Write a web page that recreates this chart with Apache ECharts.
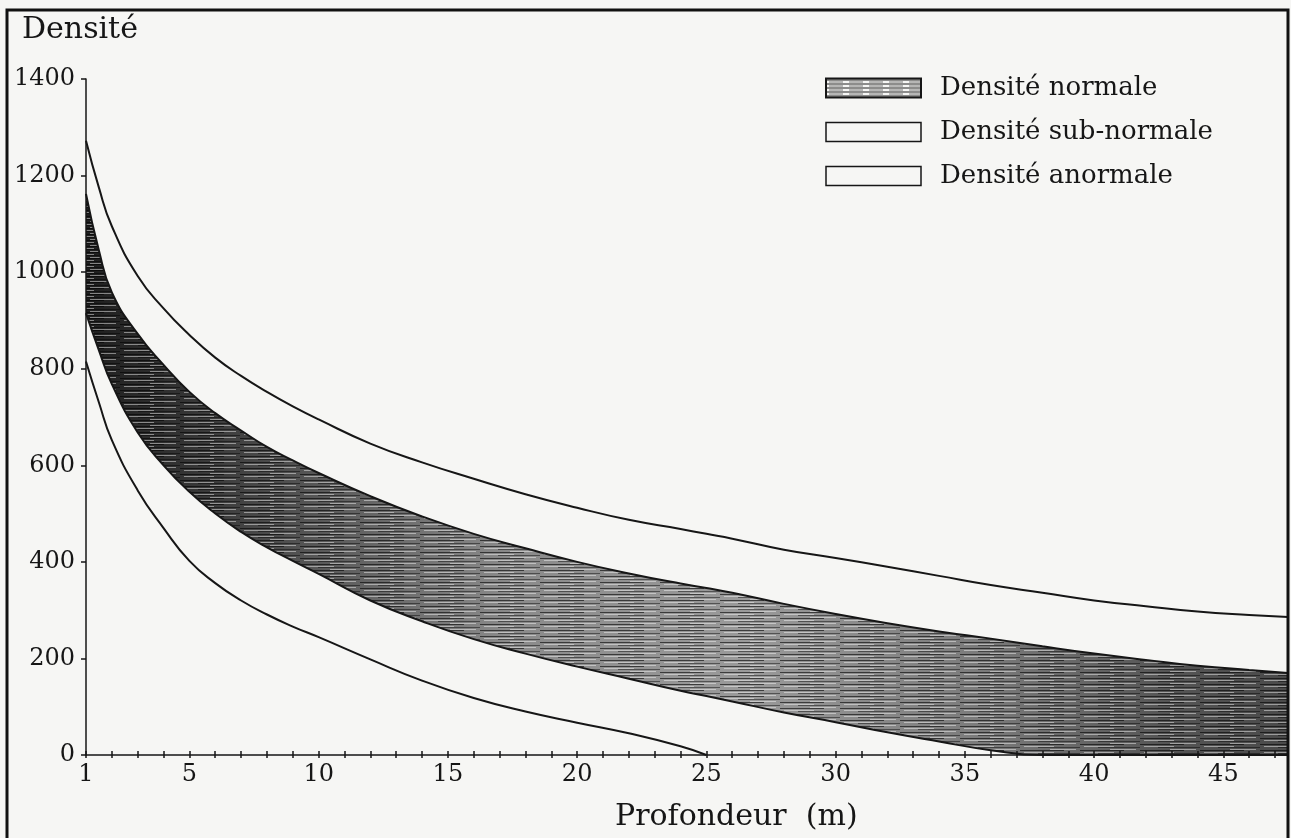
<!DOCTYPE html>
<html>
<head>
<meta charset="utf-8">
<title>Densité / Profondeur</title>
<script src="https://cdn.jsdelivr.net/npm/echarts@6/dist/echarts.min.js"></script>
<style>
  html, body { margin: 0; padding: 0; background: #f6f6f4; }
  #app { width: 1291px; height: 838px; }
</style>
</head>
<body>
<div id="app"></div>
<script>
(function() {
  // profondeur (m)
  const depth = [1, 1.5, 2, 3, 4, 5, 6, 7, 8, 9, 10, 12, 14, 16, 18, 20, 22, 24, 25, 26, 28, 30, 32, 34, 36, 38, 40, 42, 44, 46, 47.5];
  // courbe haute (limite sub-normale)
  const subHigh = [1272, 1175, 1095, 992, 925, 870, 823, 785, 752, 722, 695, 645, 606, 572, 540, 512, 487, 468, 458, 448, 425, 408, 390, 371, 352, 336, 320, 308, 297, 290, 286];
  // bande normale : limite haute / limite basse
  const normalHigh = [1162, 1045, 958, 872, 808, 752, 708, 672, 638, 610, 584, 536, 494, 458, 428, 400, 376, 355, 346, 336, 313, 292, 273, 256, 241, 225, 210, 197, 185, 176, 170];
  const normalLow = [915, 838, 768, 668, 600, 545, 500, 462, 430, 402, 375, 320, 277, 240, 210, 183, 158, 133, 122, 111, 88, 68, 47, 28, 10, 0, 0, 0, 0, 0, 0];
  // courbe basse (limite anormale)
  const anomLow = [815, 730, 652, 548, 470, 402, 356, 320, 291, 266, 244, 198, 154, 118, 90, 67, 45, 18, 0, null, null, null, null, null, null, null, null, null, null, null, null];

  const xLabels = [1, 5, 10, 15, 20, 25, 30, 35, 40, 45];
  const xTicks = [];
  for (let i = 1; i <= 47; i++) xTicks.push(i);

  const FONT = "DejaVu Serif";
  const INK = "#161616";
  const PAPER = "#f6f6f4";

  function pairs(vals) {
    return depth.map((d, i) => [d, vals[i]]);
  }

  // hachures horizontales pour la bande normale
  function makeStripes() {
    const c = document.createElement("canvas");
    c.width = 60;
    c.height = 6;
    const ctx = c.getContext("2d");
    ctx.fillStyle = "rgba(0,0,0,0.6)";
    ctx.fillRect(0, 0, 44, 1);
    ctx.fillStyle = "rgba(0,0,0,0.45)";
    ctx.fillRect(18, 3, 42, 1);
    ctx.fillStyle = "rgba(255,255,255,0.45)";
    ctx.fillRect(4, 2, 30, 1);
    ctx.fillRect(30, 5, 26, 1);
    return c;
  }
  function makeLegendStripes() {
    const c = document.createElement("canvas");
    c.width = 20;
    c.height = 4;
    const ctx = c.getContext("2d");
    ctx.fillStyle = PAPER;
    ctx.fillRect(0, 0, 20, 4);
    ctx.fillStyle = "#222";
    ctx.fillRect(0, 1, 20, 1);
    ctx.fillStyle = "#777";
    ctx.fillRect(3, 3, 14, 1);
    return c;
  }

  const hidden = { width: 0, opacity: 0 };
  const lineBase = {
    type: "line",
    smooth: 0.5,
    showSymbol: false,
    symbol: "none",
    silent: true,
    lineStyle: { color: INK, width: 2 },
    itemStyle: { color: INK }
  };

  const myChart = echarts.init(document.getElementById("app"));
  const option = {
    animation: false,
    backgroundColor: PAPER,
    title: [
      {
        text: "Densité",
        left: 17,
        top: 10,
        textStyle: { fontFamily: FONT, fontSize: 30, fontWeight: "normal", color: INK }
      },
      {
        text: "Profondeur  (m)",
        left: 610,
        top: 797,
        textStyle: { fontFamily: FONT, fontSize: 30, fontWeight: "normal", color: INK }
      }
    ],
    legend: {
      orient: "vertical",
      left: 825,
      top: 75,
      padding: 0,
      itemGap: 18,
      itemWidth: 95,
      itemHeight: 19,
      selectedMode: false,
      textStyle: { fontFamily: FONT, fontSize: 26, color: INK, padding: [0, 0, 0, 14] },
      data: [
        {
          name: "Densité normale",
          icon: "rect",
          itemStyle: { color: { image: makeLegendStripes(), repeat: "repeat" }, borderColor: INK, borderWidth: 2 }
        },
        {
          name: "Densité sub-normale",
          icon: "rect",
          itemStyle: { color: PAPER, borderColor: INK, borderWidth: 1.5 }
        },
        {
          name: "Densité anormale",
          icon: "rect",
          itemStyle: { color: PAPER, borderColor: INK, borderWidth: 1.5 }
        }
      ]
    },
    grid: {
      left: 86,
      right: 3,
      top: 79,
      bottom: 83,
      containLabel: false,
      outerBoundsMode: "none"
    },
    xAxis: [
      {
        type: "value",
        min: 1,
        max: 47.5,
        z: 10,
        axisLine: { show: true, onZero: false, lineStyle: { color: INK, width: 1.5 } },
        axisTick: { show: true, inside: true, length: 4, customValues: xTicks, lineStyle: { color: INK, width: 1.5 } },
        axisLabel: { customValues: xLabels, margin: 8, fontFamily: FONT, fontSize: 24, color: INK },
        splitLine: { show: false }
      },
      {
        type: "value",
        min: 1,
        max: 47.5,
        position: "bottom",
        z: 10,
        axisLine: { show: false },
        axisTick: { show: true, length: 3, customValues: xTicks, lineStyle: { color: INK, width: 1.5 } },
        axisLabel: { show: false },
        splitLine: { show: false }
      }
    ],
    yAxis: {
      type: "value",
      min: 0,
      max: 1400,
      interval: 200,
      z: 10,
      axisLine: { show: true, onZero: false, lineStyle: { color: INK, width: 1.5 } },
      axisTick: { show: true, length: 5, lineStyle: { color: INK, width: 1.5 } },
      axisLabel: { margin: 11, fontFamily: FONT, fontSize: 24, color: INK, formatter: v => String(v) },
      splitLine: { show: false }
    },
    series: [
      // fond gris dégradé sous la limite haute
      Object.assign({}, lineBase, {
        name: "fond",
        data: pairs(normalHigh),
        lineStyle: hidden,
        areaStyle: {
          opacity: 1,
          color: new echarts.graphic.LinearGradient(0, 0, 1, 0, [
            { offset: 0, color: "#1e1e1e" },
            { offset: 0.08, color: "#333333" },
            { offset: 0.2, color: "#5a5a5a" },
            { offset: 0.35, color: "#8a8a8a" },
            { offset: 0.55, color: "#9a9a9a" },
            { offset: 0.75, color: "#7a7a7a" },
            { offset: 0.9, color: "#555555" },
            { offset: 1, color: "#4a4a4a" }
          ])
        }
      }),
      // hachures
      Object.assign({}, lineBase, {
        name: "Densité normale",
        data: pairs(normalHigh),
        lineStyle: hidden,
        areaStyle: { opacity: 1, color: { image: makeStripes(), repeat: "repeat" } }
      }),
      // papier sous la limite basse : ne garde que la bande
      Object.assign({}, lineBase, {
        name: "limite basse",
        data: pairs(normalLow),
        areaStyle: { opacity: 1, color: PAPER }
      }),
      // courbes
      Object.assign({}, lineBase, { name: "Densité sub-normale", data: pairs(subHigh) }),
      Object.assign({}, lineBase, { name: "limite haute", data: pairs(normalHigh) }),
      Object.assign({}, lineBase, { name: "Densité anormale", data: pairs(anomLow), connectNulls: false })
    ],
    graphic: [
      {
        type: "rect",
        silent: true,
        z: 100,
        shape: { x: 7, y: 10, width: 1281, height: 845 },
        style: { fill: "none", stroke: "#111", lineWidth: 3 }
      }
    ]
  };
  myChart.setOption(option);
})();
</script>
</body>
</html>
